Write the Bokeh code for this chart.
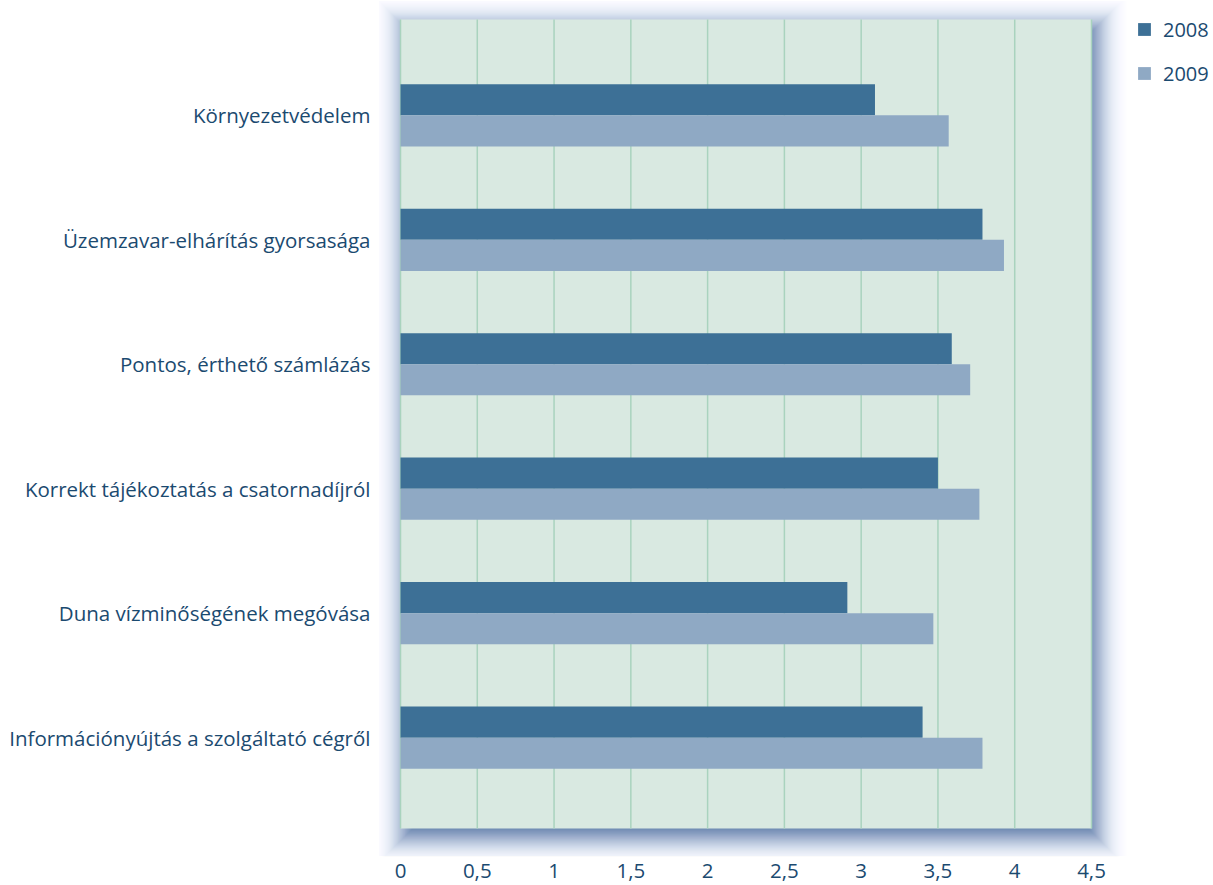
import math
from bokeh.plotting import figure
from bokeh.models import Range1d, FixedTicker, BoxAnnotation, Legend, LegendItem, ColumnDataSource
from bokeh.embed import file_html
from bokeh.resources import INLINE

categories = [
    "Környezetvédelem",
    "Üzemzavar-elhárítás gyorsasága",
    "Pontos, érthető számlázás",
    "Korrekt tájékoztatás a csatornadíjról",
    "Duna vízminőségének megóvása",
    "Információnyújtás a szolgáltató cégről",
]
values_2008 = [3.09, 3.79, 3.59, 3.50, 2.91, 3.40]
values_2009 = [3.57, 3.93, 3.71, 3.77, 3.47, 3.79]
series_names = ["2008", "2009"]
x_ticks = [0.0, 0.5, 1.0, 1.5, 2.0, 2.5, 3.0, 3.5, 4.0, 4.5]
x_tick_labels = ["0", "0,5", "1", "1,5", "2", "2,5", "3", "3,5", "4", "4,5"]

C2008 = "#3d7096"
C2009 = "#8fa9c4"
PLOT_BG = "#d9e9e1"
GRID = "#a9d3be"
SHADOW = "#3a6399"
TEXT = "#1b4a70"
FONT = "Open Sans"

# layout in pixels
FL, FT, FR, FB = 378, 0, 1213, 856          # bokeh frame (includes shadow zone)
PL, PT, PR, PB = 400, 19, 1091, 828          # visible plotting panel
X0, X1 = 0.0, 4.5
Y_TOP, Y_BOT = -0.77, 5.73

sx = (PR - PL) / (X1 - X0)
sy = (PB - PT) / (Y_BOT - Y_TOP)
xr = Range1d(X0 - (PL - FL) / sx, X1 + (FR - PR) / sx)
yr = Range1d(Y_BOT + (FB - PB) / sy, Y_TOP - (PT - FT) / sy)

pos = list(range(len(categories)))
bar_h = 0.25
src = ColumnDataSource(dict(
    y08=[p - bar_h / 2 for p in pos],
    y09=[p + bar_h / 2 for p in pos],
    v08=values_2008,
    v09=values_2009,
))
grid_src = ColumnDataSource(dict(t=x_ticks))

p = figure(
    frame_width=FR - FL, frame_height=FB - FT,
    x_range=xr, y_range=yr,
    output_backend="svg", toolbar_location=None,
    min_border_left=FL, min_border_top=FT, min_border_right=0, min_border_bottom=29,
    background_fill_color="white", border_fill_color="white",
)
p.outline_line_color = None
p.xgrid.visible = False
p.ygrid.visible = False

# soft drop shadow (gaussian-like profile from layered translucent boxes)
sigma = 14.0
offx, offy = 4.6, 7.7
Phi = lambda z: 0.5 * (1 + math.erf(z / math.sqrt(2)))
for e in range(45, -10, -1):
    a = 1 - Phi(e / sigma) / Phi((e + 1) / sigma)
    if a <= 0.002:
        continue
    p.add_layout(BoxAnnotation(
        left=X0 + (offx - e) / sx, right=X1 + (offx + e) / sx,
        top=Y_TOP + (offy - e) / sy, bottom=Y_BOT + (offy + e) / sy,
        fill_color=SHADOW, fill_alpha=a, line_color=None, level="underlay",
        editable=False,
    ))
p.add_layout(BoxAnnotation(
    left=X0, right=X1, top=Y_TOP, bottom=Y_BOT,
    fill_color=PLOT_BG, fill_alpha=1.0, line_color=None, level="underlay",
))

p.segment(x0="t", x1="t", y0=Y_TOP, y1=Y_BOT, source=grid_src,
          line_color=GRID, line_width=1.5)

r1 = p.hbar(y="y08", right="v08", left=0, height=bar_h, source=src,
            fill_color=C2008, line_color=None)
r2 = p.hbar(y="y09", right="v09", left=0, height=bar_h, source=src,
            fill_color=C2009, line_color=None)

p.xaxis.ticker = FixedTicker(ticks=x_ticks)
p.xaxis.major_label_overrides = {t: l for t, l in zip(x_ticks, x_tick_labels)}
p.yaxis.ticker = FixedTicker(ticks=pos)
p.yaxis.major_label_overrides = {i: c for i, c in zip(pos, categories)}
for ax in (p.xaxis, p.yaxis):
    ax.axis_line_color = None
    ax.major_tick_line_color = None
    ax.minor_tick_line_color = None
    ax.major_label_text_color = TEXT
    ax.major_label_text_font = FONT
    ax.major_label_text_font_size = "20.5px"
p.yaxis.major_label_standoff = 2
p.xaxis.major_label_standoff = 1

legend = Legend(
    items=[LegendItem(label=series_names[0], renderers=[r1]),
           LegendItem(label=series_names[1], renderers=[r2])],
    location=(758, 755 + (FB - 843)),
    glyph_width=16, glyph_height=16, label_height=30, label_standoff=11,
    spacing=14, padding=0, margin=0,
    border_line_color=None, background_fill_alpha=0,
    label_text_font=FONT, label_text_font_size="20px", label_text_color=TEXT,
)
p.add_layout(legend)

open("out.html", "w").write(file_html(p, INLINE))
